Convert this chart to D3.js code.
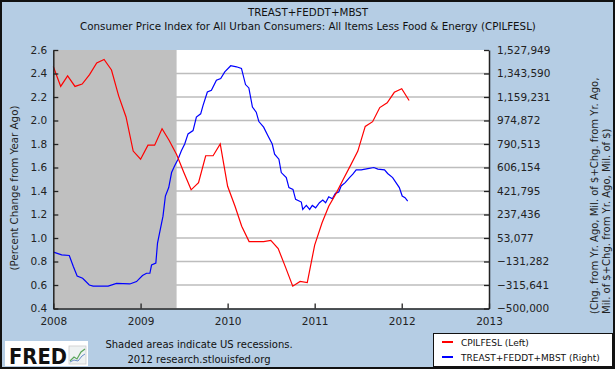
<!DOCTYPE html>
<html><head><meta charset="utf-8">
<script src="https://cdn.jsdelivr.net/npm/d3@7"></script>
<style>html,body{margin:0;padding:0;background:#b5cde4;} svg{display:block}</style>
</head><body><svg id="c" width="615" height="369"></svg>
<script>
// ---------- data ----------
const titleLines = ["TREAST+FEDDT+MBST",
  "Consumer Price Index for All Urban Consumers: All Items Less Food & Energy (CPILFESL)"];
const leftAxisTitle = "(Percent Change from Year Ago)";
const rightAxisTitle = ["(Chg. from Yr. Ago, Mil. of $+Chg. from Yr. Ago,",
  "Mil. of $+Chg. from Yr. Ago, Mil. of $)"];
const cpiStart = "2008-01-01";
const cpiValues = [
  2.46, 2.29, 2.38, 2.29, 2.31, 2.39, 2.49, 2.52, 2.43, 2.21, 2.03, 1.74,
  1.67, 1.79, 1.79, 1.93, 1.83, 1.71, 1.56, 1.41, 1.47, 1.70, 1.70, 1.80,
  1.44, 1.27, 1.10, 0.97, 0.97, 0.97, 0.98, 0.91, 0.75, 0.59, 0.63, 0.62,
  0.94, 1.13, 1.27, 1.38, 1.50, 1.62, 1.74, 1.95, 1.99, 2.11, 2.15, 2.24,
  2.27, 2.17];
const treasDates = [
  "2008-01-02","2008-02-05","2008-03-08","2008-03-25","2008-04-10","2008-05-03","2008-05-31","2008-06-16",
  "2008-08-18","2008-09-22","2008-11-17","2008-12-15","2009-01-09","2009-01-26","2009-02-09","2009-02-16",
  "2009-03-06","2009-03-13","2009-03-23","2009-04-05","2009-04-15","2009-04-29","2009-05-11","2009-05-24",
  "2009-06-07","2009-06-21","2009-07-05","2009-07-19","2009-08-09","2009-08-23","2009-09-10","2009-09-20",
  "2009-10-08","2009-10-25","2009-11-15","2009-12-03","2009-12-20","2010-01-14","2010-02-07","2010-02-28",
  "2010-03-17","2010-03-31","2010-04-15","2010-05-01","2010-05-12","2010-06-01","2010-06-19","2010-07-07",
  "2010-07-17","2010-08-04","2010-08-14","2010-09-04","2010-09-15","2010-10-02","2010-10-13","2010-11-06",
  "2010-11-12","2010-11-27","2010-12-11","2010-12-22","2011-01-05","2011-01-21","2011-02-04","2011-02-16",
  "2011-03-01","2011-03-16","2011-03-29","2011-04-12","2011-04-22","2011-05-09","2011-05-27","2011-06-10",
  "2011-06-24","2011-07-15","2011-08-12","2011-09-06","2011-09-23","2011-10-21","2011-11-03","2011-11-24",
  "2011-12-08","2011-12-22","2012-01-03","2012-01-15","2012-01-26"];
const treasValues = [
  -57538, -78740, -84270, -170919, -244663, -263099, -315641, -323937,
  -323937, -302736, -307345, -288909, -241897, -223461, -223461, -158936,
  -144187, 13440, 105619, 224531, 382158, 448527, 566517, 619059,
  671601, 737971, 790513, 869787, 895598, 1001604, 1027414, 1093784,
  1198868, 1211773, 1291048, 1303953, 1356495, 1404428, 1396132, 1383227,
  1256941, 1230209, 1079957, 1040320, 966576, 922330, 855960, 790513,
  711239, 671601, 566517, 526880, 448527, 434700, 356348, 335146,
  277073, 308414, 277073, 308414, 289978, 329616, 350817, 329616,
  376627, 360957, 403359, 413499, 461432, 487242, 526880, 553612,
  587718, 587718, 597858, 606154, 593249, 587718, 559142, 526880,
  487242, 448527, 382158, 369253, 342521];
const recession = ["2008-01-01", "2009-06-01"];
const yearTicks = [2008, 2009, 2010, 2011, 2012, 2013];
const leftTicks = [0.4, 0.6, 0.8, 1.0, 1.2, 1.4, 1.6, 1.8, 2.0, 2.2, 2.4, 2.6];
const rightTicks = [-500000, -315641, -131282, 53077, 237436, 421795, 606154,
  790513, 974872, 1159231, 1343590, 1527949];
const legendLabels = ["CPILFESL (Left)", "TREAST+FEDDT+MBST (Right)"];
const footerLines = ["Shaded areas indicate US recessions.", "2012 research.stlouisfed.org"];

// ---------- layout ----------
const W = 615, H = 369;
const P = {l: 53.3, r: 489, t: 50, b: 308.5};
const FONT = "'DejaVu Sans', Verdana, sans-serif";
const BG = "#b5cde4";
const RED = "#ff0000", BLUE = "#0000ff";

const parse = d3.timeParse("%Y-%m-%d");
const svg = d3.select("#c").attr("font-family", FONT);

svg.append("rect").attr("x", 1).attr("y", 1).attr("width", W - 2).attr("height", H - 2)
  .attr("fill", BG).attr("stroke", "#111").attr("stroke-width", 2);

const x = d3.scaleTime().domain([new Date(yearTicks[0], 0, 1), new Date(yearTicks[yearTicks.length - 1], 0, 1)])
  .range([P.l, P.r]);
const yL = d3.scaleLinear().domain([leftTicks[0], leftTicks[leftTicks.length - 1]]).range([P.b, P.t]);
const yR = d3.scaleLinear().domain([rightTicks[0], rightTicks[rightTicks.length - 1]]).range([P.b, P.t]);

// plot background
svg.append("rect").attr("x", P.l).attr("y", P.t).attr("width", P.r - P.l).attr("height", P.b - P.t)
  .attr("fill", "#fff");

// gridlines
svg.append("g").selectAll("line").data(leftTicks.slice(1, -1)).join("line")
  .attr("x1", P.l).attr("x2", P.r).attr("y1", d => yL(d)).attr("y2", d => yL(d))
  .attr("stroke", "#bdbdbd").attr("stroke-width", 1.6);

// recession shading
svg.append("rect").attr("x", x(parse(recession[0]))).attr("y", P.t)
  .attr("width", x(parse(recession[1])) - x(parse(recession[0]))).attr("height", P.b - P.t)
  .attr("fill", "#c0c0c0");

// lines
const cpiData = cpiValues.map((v, i) => ({d: d3.timeMonth.offset(parse(cpiStart), i), v}));
const treasData = treasDates.map((d, i) => ({d: parse(d), v: treasValues[i]}));

svg.append("path").datum(treasData)
  .attr("d", d3.line().x(d => x(d.d)).y(d => yR(d.v)))
  .attr("fill", "none").attr("stroke", BLUE).attr("stroke-width", 1.2);
svg.append("path").datum(cpiData)
  .attr("d", d3.line().x(d => x(d.d)).y(d => yL(d.v)))
  .attr("fill", "none").attr("stroke", RED).attr("stroke-width", 1.2);

// axes
function styleAxis(g) {
  g.select(".domain").attr("stroke", "#222").attr("stroke-width", 1.5);
  g.selectAll(".tick line").attr("stroke", "#222").attr("stroke-width", 1.3);
  g.selectAll(".tick text").attr("fill", "#222").attr("font-family", FONT);
}
svg.append("g").attr("transform", `translate(${P.l},0)`)
  .call(d3.axisLeft(yL).tickValues(leftTicks).tickFormat(d3.format(".1f")).tickSize(-5).tickPadding(6).tickSizeOuter(0))
  .call(styleAxis).call(g => g.selectAll("text").attr("font-size", 10.5));
svg.append("g").attr("transform", `translate(${P.r},0)`)
  .call(d3.axisRight(yR).tickValues(rightTicks).tickFormat(d3.format(",")).tickSize(-5).tickPadding(8).tickSizeOuter(0))
  .call(styleAxis).call(g => g.selectAll("text").attr("font-size", 10.5));
svg.append("g").attr("transform", `translate(0,${P.b})`)
  .call(d3.axisBottom(x).tickValues(yearTicks.map(y => new Date(y, 0, 1))).tickFormat(d3.timeFormat("%Y")).tickSize(-5).tickPadding(9).tickSizeOuter(0))
  .call(styleAxis).call(g => g.selectAll("text").attr("font-size", 10.5));

// titles
svg.append("g").selectAll("text").data(titleLines).join("text")
  .attr("x", 308).attr("y", (d, i) => 16 + i * 14).attr("text-anchor", "middle")
  .attr("font-size", 10.3).attr("fill", "#111").text(d => d);

svg.append("text").attr("transform", `translate(18,188) rotate(-90)`).attr("text-anchor", "middle")
  .attr("font-size", 10.3).attr("fill", "#222").text(leftAxisTitle);
svg.append("g").selectAll("text").data(rightAxisTitle).join("text")
  .attr("transform", (d, i) => `translate(${598 + i * 12},314) rotate(-90)`)
  .attr("font-size", 10).attr("fill", "#222").text(d => d);

// footer: logo
const logo = svg.append("g");
logo.append("rect").attr("x", 5).attr("y", 341).attr("width", 83).attr("height", 25).attr("fill", "#fff");
logo.append("text").attr("x", 9).attr("y", 364).attr("font-size", 21).attr("font-weight", "bold")
  .attr("font-family", "'DejaVu Sans', Arial, sans-serif").attr("fill", "#111")
  .attr("textLength", 58).attr("lengthAdjust", "spacingAndGlyphs").text("FRED");
logo.append("rect").attr("x", 69).attr("y", 346).attr("width", 17).attr("height", 18)
  .attr("fill", "#eef2f2").attr("stroke", "#ccc").attr("stroke-width", 0.8);
logo.append("path").attr("d", "M70,361 L74,357 L77,359 L81,352 L85,349").attr("fill", "none")
  .attr("stroke", "#5aa55a").attr("stroke-width", 1.2);
logo.append("path").attr("d", "M70,362 L74,360 L78,361 L82,356 L85,354").attr("fill", "none")
  .attr("stroke", "#6a8cc8").attr("stroke-width", 1);

svg.append("g").selectAll("text").data(footerLines).join("text")
  .attr("x", 199).attr("y", (d, i) => 348 + i * 15).attr("text-anchor", "middle")
  .attr("font-size", 10).attr("fill", "#111").text(d => d);

// legend
const lg = svg.append("g");
lg.append("rect").attr("x", 433.5).attr("y", 333.5).attr("width", 179).attr("height", 33)
  .attr("fill", "#fff").attr("stroke", "#111").attr("stroke-width", 1);
const items = lg.selectAll("g").data(legendLabels).join("g")
  .attr("transform", (d, i) => `translate(0,${342 + i * 15})`);
items.append("line").attr("x1", 442).attr("x2", 453).attr("y1", 0).attr("y2", 0)
  .attr("stroke", (d, i) => i ? BLUE : RED).attr("stroke-width", 2);
items.append("text").attr("x", 461).attr("y", 3.5).attr("font-size", 9).attr("fill", "#111").text(d => d);
</script>
</body></html>
